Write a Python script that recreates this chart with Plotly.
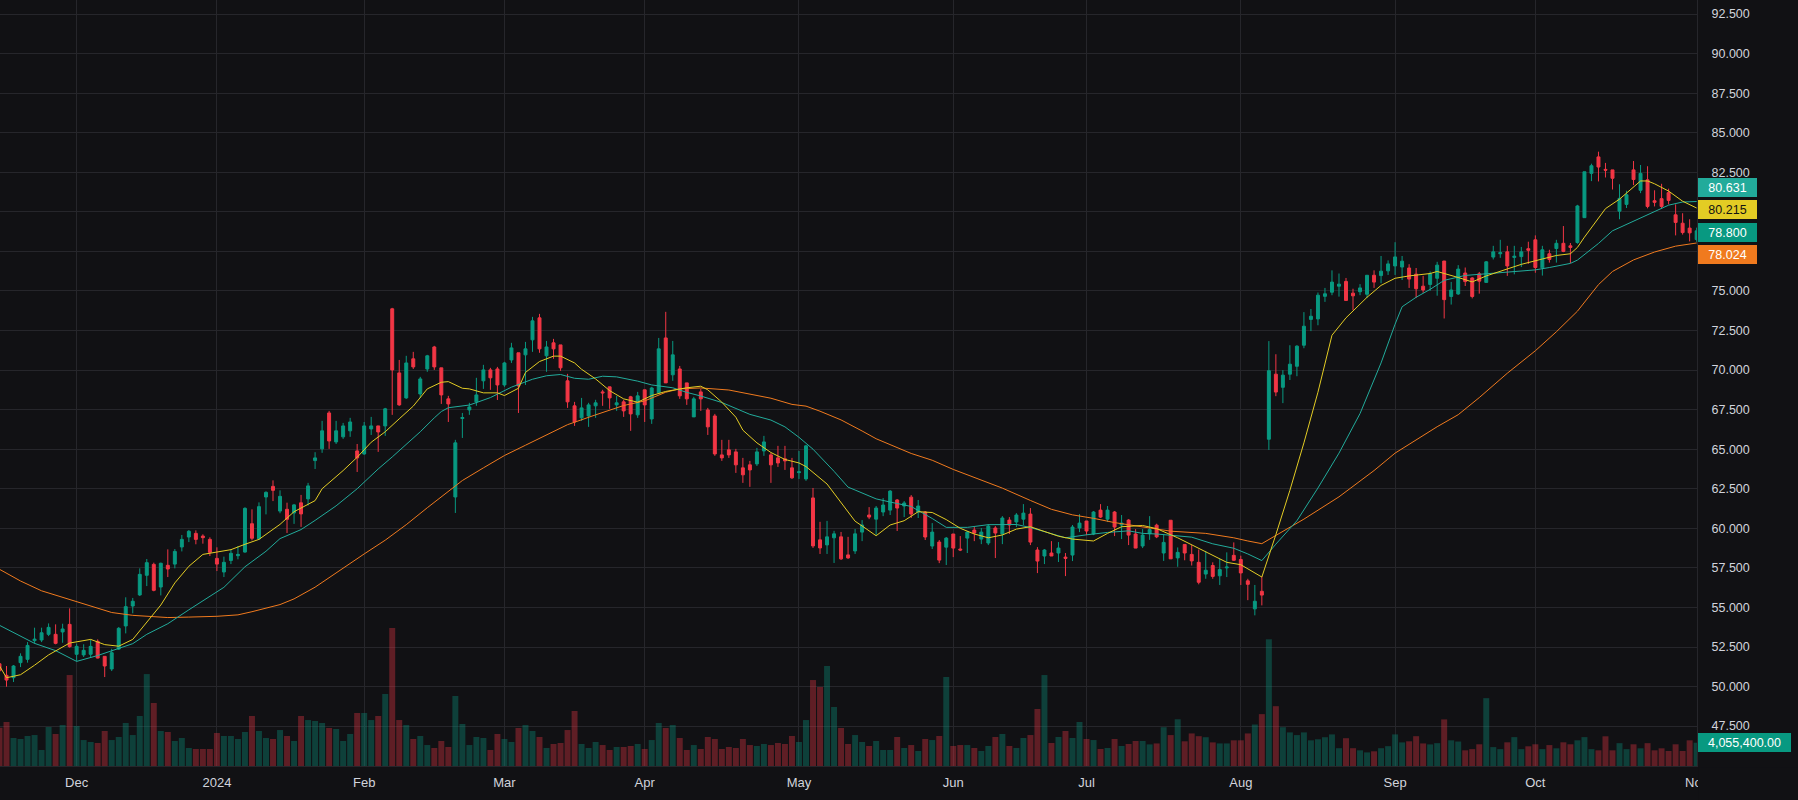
import pandas as pd
import plotly.graph_objects as go

# ---------------- data ----------------
holidays = ["2023-11-23", "2023-12-25", "2024-01-01", "2024-01-15", "2024-02-19",
            "2024-03-29", "2024-05-27", "2024-06-19", "2024-07-04", "2024-09-02"]
dates = [d for d in pd.bdate_range("2023-11-15", "2024-11-01")
         if d.strftime("%Y-%m-%d") not in holidays]

open_ = [51.44, 50.71, 50.56, 51.51, 51.72, 52.90, 52.94, 53.30, 53.30, 53.45,
         53.93, 52.04, 52.00, 52.04, 52.86, 51.91, 51.11, 52.37, 53.83, 55.09,
         55.79, 57.03, 57.72, 56.29, 57.66, 57.74, 58.82, 59.45, 59.68, 59.51,
         59.30, 58.10, 57.24, 57.97, 58.27, 58.50, 60.29, 59.34, 61.98, 62.65,
         61.09, 61.20, 60.97, 61.61, 61.86, 64.28, 65.02, 67.29, 65.46, 65.78,
         66.16, 64.89, 64.70, 66.28, 66.47, 66.47, 73.87, 69.82, 68.24, 70.71,
         68.49, 70.07, 71.46, 70.14, 68.18, 61.98, 66.94, 67.48, 67.99, 69.32,
         70.01, 70.07, 69.06, 70.64, 71.09, 70.96, 71.91, 73.30, 70.90, 71.72,
         71.59, 69.32, 67.74, 66.98, 67.10, 67.74, 68.62, 68.94, 67.80, 67.99,
         68.31, 67.17, 68.75, 66.91, 68.56, 72.03, 69.70, 70.07, 69.19, 67.04,
         68.62, 67.48, 67.10, 64.64, 64.96, 64.83, 63.82, 64.01, 64.07, 64.89,
         64.64, 64.45, 64.39, 63.82, 63.52, 63.12, 61.92, 59.27, 58.95, 59.40,
         59.46, 58.32, 58.57, 59.76, 60.84, 60.58, 61.03, 61.15, 61.79, 61.41,
         61.97, 61.03, 61.03, 58.88, 59.13, 58.81, 59.64, 58.69, 59.38, 59.89,
         59.32, 59.07, 60.02, 59.64, 60.52, 60.40, 60.58, 60.90, 58.63, 58.25,
         58.44, 58.44, 58.18, 58.31, 60.02, 60.46, 59.64, 61.15, 60.58, 61.03,
         60.21, 60.52, 59.64, 58.88, 59.66, 60.20, 58.44, 60.51, 58.13, 58.98,
         58.35, 57.85, 57.11, 57.65, 57.00, 57.50, 58.29, 58.03, 56.68, 54.91,
         56.02, 65.63, 69.74, 68.91, 69.74, 70.24, 71.57, 73.20, 73.23, 74.66,
         74.92, 75.30, 75.60, 74.86, 74.95, 74.79, 75.99, 75.97, 76.27, 76.58,
         76.51, 76.45, 76.06, 75.30, 75.41, 75.80, 76.89, 74.65, 74.81, 76.13,
         75.82, 76.08, 75.54, 77.14, 77.35, 77.47, 77.12, 77.17, 77.67, 78.23,
         76.46, 77.35, 77.68, 78.01, 77.85, 78.06, 79.63, 82.43, 83.47, 82.68,
         82.65, 80.04, 80.47, 82.65, 81.36, 82.02, 80.70, 80.83, 81.21, 79.81,
         79.28, 78.97, 78.25]

high = [51.62, 51.30, 51.36, 52.10, 52.81, 53.72, 53.72, 53.99, 53.93, 53.97,
        54.94, 52.71, 52.67, 52.98, 52.98, 51.91, 52.39, 53.76, 55.64, 55.60,
        57.47, 58.06, 57.83, 57.83, 58.67, 58.69, 59.58, 59.89, 59.87, 59.62,
        59.43, 58.80, 58.21, 58.69, 58.88, 61.33, 61.20, 61.64, 62.34, 63.03,
        62.40, 61.62, 61.54, 62.11, 62.87, 64.81, 66.79, 67.42, 66.79, 66.66,
        66.98, 65.33, 66.72, 67.04, 66.47, 67.61, 73.93, 70.64, 70.90, 71.15,
        69.57, 70.96, 71.53, 70.14, 68.37, 65.59, 67.29, 67.93, 69.51, 70.33,
        70.14, 70.20, 70.52, 71.72, 71.09, 71.78, 73.36, 73.55, 71.84, 71.97,
        71.59, 69.76, 67.99, 68.24, 67.93, 68.12, 68.75, 68.94, 68.37, 68.12,
        68.37, 68.62, 68.75, 68.94, 72.03, 73.68, 71.84, 70.26, 69.19, 68.31,
        68.81, 67.61, 67.23, 65.59, 65.59, 65.02, 64.45, 64.26, 65.08, 65.84,
        64.77, 65.21, 65.21, 64.45, 64.89, 65.27, 62.55, 60.41, 60.47, 59.84,
        59.77, 59.46, 59.96, 60.52, 61.34, 61.41, 61.91, 62.42, 61.85, 61.72,
        62.10, 61.79, 61.09, 60.33, 59.26, 59.45, 59.64, 59.51, 59.83, 60.08,
        60.02, 60.27, 60.14, 60.77, 60.71, 60.96, 61.53, 61.28, 58.81, 58.69,
        59.19, 59.13, 58.44, 60.21, 60.90, 60.46, 61.09, 61.53, 61.41, 61.09,
        60.84, 60.58, 59.95, 59.95, 60.77, 60.29, 59.62, 60.51, 58.79, 58.98,
        58.94, 58.66, 58.57, 57.85, 58.07, 58.48, 59.11, 58.27, 56.81, 56.42,
        56.96, 71.83, 71.00, 70.00, 71.57, 71.57, 73.66, 73.86, 74.90, 75.19,
        76.30, 76.10, 75.82, 75.14, 75.43, 75.99, 76.30, 77.21, 76.93, 78.08,
        77.21, 76.69, 76.45, 75.95, 76.23, 76.84, 76.89, 75.57, 76.63, 76.48,
        75.87, 76.20, 76.89, 77.85, 78.23, 77.85, 77.85, 77.78, 78.11, 78.51,
        77.85, 77.60, 78.23, 79.10, 78.03, 80.44, 82.53, 83.04, 83.80, 83.09,
        82.65, 81.74, 81.33, 83.21, 82.96, 82.88, 81.36, 81.77, 81.46, 80.47,
        79.91, 79.53, 79.00]

low = [50.90, 49.99, 50.29, 51.23, 51.51, 52.71, 52.81, 53.19, 52.67, 52.77,
       52.46, 51.59, 51.87, 51.82, 51.78, 50.60, 50.98, 52.31, 53.36, 54.63,
       55.72, 56.35, 56.02, 55.76, 56.92, 57.47, 58.54, 59.13, 58.99, 59.03,
       58.25, 57.30, 56.92, 57.74, 58.04, 58.46, 59.24, 59.26, 60.88, 61.72,
       60.95, 59.70, 60.28, 60.09, 61.44, 63.75, 64.77, 65.02, 65.33, 65.65,
       65.78, 63.56, 64.64, 65.90, 64.83, 65.84, 67.17, 67.74, 68.18, 70.07,
       68.24, 69.89, 70.01, 67.86, 66.72, 60.97, 65.71, 67.17, 67.74, 68.81,
       68.75, 68.11, 68.94, 70.45, 67.29, 69.06, 71.15, 71.09, 69.89, 70.71,
       69.95, 67.61, 66.47, 66.79, 66.41, 66.98, 67.74, 67.55, 67.42, 67.04,
       66.16, 66.98, 66.72, 66.60, 68.56, 69.19, 69.32, 68.18, 67.80, 67.04,
       67.42, 65.90, 64.58, 64.26, 64.45, 63.50, 62.87, 62.62, 63.94, 64.58,
       62.87, 63.88, 63.69, 63.12, 63.12, 63.00, 58.76, 58.38, 58.38, 57.81,
       58.00, 58.07, 58.38, 59.19, 60.58, 59.57, 60.77, 60.84, 59.83, 60.71,
       60.65, 60.65, 59.26, 58.69, 57.80, 57.68, 58.18, 58.56, 58.44, 59.19,
       59.00, 58.94, 58.12, 59.00, 59.64, 60.08, 60.21, 58.94, 57.17, 57.74,
       58.25, 57.87, 56.98, 57.93, 59.76, 59.57, 59.57, 60.65, 60.40, 59.51,
       59.32, 58.94, 58.75, 58.75, 59.27, 59.38, 57.94, 58.07, 57.57, 57.98,
       57.65, 56.46, 56.81, 56.81, 56.42, 56.92, 57.94, 56.42, 55.46, 54.50,
       55.13, 64.95, 68.35, 67.91, 69.37, 69.61, 71.38, 72.46, 72.83, 74.31,
       74.73, 74.64, 74.38, 73.79, 74.73, 74.55, 75.19, 75.49, 76.01, 76.01,
       75.69, 75.19, 74.55, 74.88, 75.01, 74.70, 73.26, 74.14, 74.75, 75.31,
       74.53, 74.83, 75.52, 76.99, 77.09, 75.95, 76.05, 76.51, 76.71, 76.15,
       75.97, 76.79, 76.79, 77.45, 76.76, 77.98, 79.63, 81.94, 81.92, 82.17,
       81.41, 79.53, 80.24, 81.69, 81.18, 80.22, 80.34, 80.19, 80.47, 78.51,
       78.56, 78.13, 78.10]

close = [51.00, 50.41, 51.30, 51.91, 52.60, 53.00, 53.40, 53.74, 52.73, 53.64,
         52.52, 52.54, 52.29, 52.54, 51.80, 51.30, 52.14, 53.68, 55.05, 55.39,
         57.09, 57.83, 56.08, 57.79, 57.43, 58.54, 59.30, 59.81, 59.30, 59.41,
         58.48, 57.74, 57.85, 58.42, 58.35, 61.26, 59.37, 61.37, 62.27, 62.40,
         62.02, 60.57, 61.48, 60.91, 62.68, 64.45, 66.16, 65.52, 66.16, 66.47,
         66.72, 64.45, 66.47, 66.47, 66.09, 67.55, 70.01, 67.80, 70.45, 70.20,
         69.44, 70.90, 70.20, 68.43, 67.86, 65.40, 67.00, 67.67, 68.43, 70.01,
         69.51, 69.06, 70.45, 71.40, 69.00, 71.34, 73.11, 71.34, 71.46, 71.34,
         70.14, 67.99, 66.72, 67.61, 67.80, 67.93, 68.56, 68.24, 67.93, 67.42,
         67.23, 68.37, 67.80, 68.87, 71.34, 69.19, 70.96, 68.37, 68.18, 68.18,
         68.18, 66.41, 64.70, 64.45, 64.64, 64.01, 63.38, 63.69, 64.83, 65.46,
         64.01, 64.13, 64.26, 63.19, 63.57, 65.21, 58.89, 58.76, 59.46, 59.65,
         58.07, 58.13, 59.65, 60.21, 60.71, 61.28, 61.47, 62.35, 61.28, 61.60,
         60.90, 61.41, 59.45, 59.76, 57.99, 59.38, 58.75, 58.63, 59.76, 59.70,
         59.76, 60.14, 59.70, 60.65, 60.21, 60.84, 60.96, 59.13, 57.93, 58.63,
         58.25, 58.75, 58.10, 60.08, 60.33, 59.83, 61.03, 60.71, 61.15, 60.08,
         60.33, 59.57, 58.75, 59.57, 59.92, 59.46, 59.11, 58.07, 58.48, 58.44,
         57.94, 56.59, 57.35, 56.96, 57.39, 57.55, 57.98, 57.18, 56.46, 55.39,
         55.78, 69.96, 68.61, 69.68, 70.37, 71.51, 72.77, 73.40, 74.73, 74.82,
         75.56, 75.43, 74.40, 74.69, 75.19, 75.99, 75.56, 76.25, 76.71, 77.15,
         76.88, 75.75, 75.14, 75.06, 76.08, 76.63, 74.45, 75.06, 76.38, 75.59,
         74.65, 75.62, 76.84, 77.47, 77.42, 76.58, 77.19, 77.47, 77.57, 76.48,
         77.60, 76.99, 78.01, 77.50, 77.75, 80.37, 82.53, 82.91, 82.83, 82.63,
         82.12, 80.85, 81.08, 82.04, 82.43, 80.34, 80.60, 80.34, 80.72, 79.33,
         78.69, 78.67, 78.80]

volume_m = [6.66, 7.66, 4.87, 4.70, 5.22, 5.39, 2.78, 6.79, 5.57, 7.13,
            15.83, 6.96, 4.52, 4.18, 4.00, 6.09, 4.52, 5.05, 7.48, 5.39,
            8.70, 16.00, 10.96, 6.09, 5.92, 4.35, 4.87, 3.13, 2.96, 2.96,
            2.96, 5.74, 5.22, 5.22, 4.70, 5.92, 8.70, 6.09, 4.87, 4.70,
            6.26, 5.22, 4.35, 8.70, 8.00, 7.83, 7.48, 6.61, 6.44, 4.35,
            5.57, 9.22, 9.22, 8.00, 8.70, 12.53, 24.00, 8.00, 7.13, 4.70,
            5.22, 3.65, 3.13, 4.35, 3.31, 12.18, 7.31, 3.65, 5.05, 4.87,
            2.78, 5.57, 4.70, 4.18, 6.61, 7.13, 6.09, 5.05, 3.13, 3.83,
            4.00, 6.26, 9.57, 3.83, 3.13, 4.18, 3.65, 2.78, 3.31, 3.31,
            3.48, 3.83, 2.96, 4.52, 7.48, 6.61, 7.13, 4.87, 2.78, 3.65,
            2.96, 5.05, 4.70, 2.96, 3.31, 3.13, 4.70, 3.65, 3.48, 3.83,
            3.65, 4.00, 3.83, 5.22, 4.18, 8.00, 14.96, 13.75, 17.40, 10.27,
            6.61, 3.83, 5.39, 4.18, 3.48, 4.35, 2.78, 2.78, 5.05, 3.13,
            3.65, 2.61, 4.70, 4.52, 5.22, 15.49, 3.48, 3.65, 3.65, 3.13,
            2.61, 3.48, 5.05, 5.57, 3.48, 3.13, 4.87, 5.39, 9.92, 15.83,
            4.00, 5.05, 6.09, 4.87, 7.66, 4.70, 4.52, 2.96, 3.13, 4.70,
            3.48, 3.83, 4.35, 4.35, 3.76, 3.93, 6.75, 5.38, 8.13, 4.30,
            5.67, 5.19, 5.01, 4.11, 3.93, 3.93, 4.47, 4.47, 5.67, 7.22,
            9.03, 22.05, 10.41, 6.75, 5.85, 5.38, 5.85, 4.47, 4.65, 5.01,
            5.50, 3.10, 4.84, 3.10, 2.73, 2.37, 2.56, 3.10, 3.45, 5.50,
            4.11, 4.30, 5.19, 3.93, 3.76, 3.98, 8.11, 4.47, 4.26, 2.73,
            2.94, 3.78, 11.81, 3.29, 2.94, 4.12, 5.03, 2.94, 3.43, 3.78,
            2.94, 3.64, 3.08, 4.12, 3.78, 4.47, 5.03, 2.94, 2.73, 5.17,
            2.73, 3.98, 2.94, 3.78, 3.08, 3.98, 2.73, 3.08, 2.61, 3.78,
            2.61, 4.47, 4.0554]

# moving averages (bar index, value)
ma_fast_idx = [0, 1, 2, 3, 5, 7, 10, 12, 13, 15, 17, 19, 21, 23, 25, 27, 29, 31, 33, 35,
               37, 40, 42, 45, 46, 49, 51, 53, 55, 57, 59, 61, 63, 64, 66, 67, 69, 71, 72, 74,
               75, 77, 79, 80, 82, 83, 85, 87, 89, 91, 93, 95, 98, 100, 101, 103, 105, 106, 108, 110,
               112, 114, 115, 118, 120, 122, 123, 125, 127, 129, 131, 133, 135, 137, 139, 141, 143, 145, 147, 149,
               151, 153, 156, 158, 160, 163, 165, 168, 170, 173, 175, 177, 180, 182, 184, 186, 188, 190, 192, 195,
               197, 199, 201, 204, 205, 208, 210, 212, 215, 217, 220, 222, 224, 225, 226, 227, 229, 231, 233, 234,
               235, 236, 238, 240, 242]
ma_fast_val = [51.30, 50.56, 50.65, 50.75, 51.35, 52.00, 52.75, 52.93, 52.98, 52.65, 52.55, 52.98, 54.04, 55.15, 56.55, 57.60, 58.35, 58.50, 58.65, 58.99,
               59.30, 60.25, 61.05, 61.75, 62.50, 63.65, 64.49, 65.44, 66.10, 66.92, 67.72, 68.81, 69.23, 69.27, 68.85, 68.81, 68.56, 68.56, 68.39, 68.85,
               69.85, 70.54, 70.88, 70.88, 70.45, 70.05, 69.44, 68.70, 68.18, 67.97, 68.39, 68.65, 68.88, 68.98, 68.75, 67.97, 67.02, 66.20, 65.40, 64.79,
               64.35, 64.13, 63.90, 62.80, 61.65, 60.45, 60.15, 59.53, 60.21, 60.48, 61.05, 61.00, 60.55, 60.00, 59.64, 59.40, 59.58, 59.95, 60.10, 59.78,
               59.50, 59.32, 59.20, 59.68, 60.10, 60.18, 59.98, 59.40, 58.95, 58.30, 57.85, 57.70, 56.92, 59.60, 62.40, 65.40, 68.60, 72.20, 73.30, 74.60,
               75.35, 75.80, 75.95, 76.10, 76.23, 75.85, 75.57, 75.95, 76.40, 76.68, 77.02, 77.24, 77.35, 77.75, 78.40, 79.00, 80.20, 80.80, 81.55, 81.95,
               81.95, 81.77, 81.31, 80.67, 80.24]

ma_mid_idx = [0, 2, 5, 8, 11, 14, 17, 19, 21, 24, 27, 30, 32, 35, 38, 40, 43, 45, 48, 51,
              54, 56, 58, 60, 62, 63, 64, 67, 70, 73, 76, 78, 80, 82, 84, 86, 88, 91, 93, 96,
              98, 100, 103, 105, 107, 110, 112, 114, 116, 119, 121, 122, 125, 127, 130, 133, 135, 138, 141, 145,
              147, 150, 152, 155, 158, 161, 163, 165, 170, 173, 176, 178, 180, 182, 185, 188, 191, 194, 197, 199,
              200, 202, 204, 206, 209, 213, 216, 219, 221, 224, 225, 228, 230, 233, 236, 238, 240, 242]
ma_mid_val = [53.87, 53.40, 52.73, 52.27, 51.59, 51.96, 52.40, 52.71, 53.30, 53.97, 54.85, 55.67, 56.27, 57.57, 58.55, 59.35, 59.92, 60.50, 61.42, 62.50,
              63.75, 64.51, 65.31, 66.10, 66.98, 67.38, 67.62, 67.79, 68.26, 68.92, 69.42, 69.64, 69.72, 69.48, 69.42, 69.61, 69.57, 69.30, 69.06, 68.88,
              68.59, 68.36, 67.95, 67.55, 67.20, 66.84, 66.41, 65.75, 65.00, 63.60, 62.60, 62.42, 61.86, 61.66, 61.38, 60.62, 60.06, 60.06, 60.23, 60.24,
              60.05, 59.66, 59.40, 59.59, 59.74, 59.84, 59.68, 59.64, 59.44, 59.02, 58.74, 58.38, 57.96, 59.00, 60.48, 62.55, 64.75, 67.25, 70.45, 72.90,
              74.00, 74.60, 75.10, 75.67, 75.98, 76.12, 76.24, 76.33, 76.48, 76.74, 76.95, 78.00, 78.80, 79.40, 80.00, 80.42, 80.62, 80.65]

ma_slow_idx = [0, 3, 6, 11, 14, 16, 19, 21, 24, 27, 31, 34, 36, 40, 42, 45, 49, 52, 55, 58,
               61, 64, 66, 69, 72, 75, 78, 81, 85, 89, 92, 95, 97, 100, 104, 106, 110, 113, 115, 117,
               120, 123, 125, 130, 133, 136, 140, 143, 147, 150, 153, 156, 159, 163, 167, 172, 176, 178, 180, 182,
               186, 191, 196, 199, 202, 205, 208, 211, 215, 219, 222, 225, 228, 230, 233, 236, 239, 242]
ma_slow_val = [57.41, 56.67, 56.05, 55.34, 54.92, 54.68, 54.50, 54.46, 54.36, 54.39, 54.44, 54.53, 54.73, 55.18, 55.54, 56.28, 57.50, 58.38, 59.25, 60.23,
               61.30, 62.34, 63.02, 63.82, 64.60, 65.25, 65.91, 66.55, 67.17, 67.76, 68.05, 68.60, 68.81, 68.87, 68.74, 68.57, 68.22, 67.83, 67.72, 67.40,
               66.85, 66.15, 65.66, 64.73, 64.30, 63.72, 63.03, 62.54, 61.76, 61.20, 60.85, 60.63, 60.36, 60.10, 59.82, 59.68, 59.40, 59.20, 59.03, 59.55,
               60.58, 61.99, 63.65, 64.75, 65.60, 66.42, 67.18, 68.26, 69.80, 71.22, 72.42, 73.72, 75.40, 76.23, 76.96, 77.46, 77.83, 78.03]

# right-axis value tags (as printed on the chart)
tag_values = [80.631, 80.215, 78.800, 78.024]
price_ticks = [47.5, 50.0, 52.5, 55.0, 57.5, 60.0, 62.5, 65.0, 67.5, 70.0, 72.5, 75.0, 77.5, 80.0, 82.5, 85.0, 87.5, 90.0, 92.5]

# ---------------- styling ----------------
BG = "#111114"
GRID = "#26262b"
TXT = "#d1d4dc"
UP = "#089981"
DN = "#F23645"
C_FAST = "#e3cc24"
C_MID = "#22ab9b"
C_SLOW = "#f07a1e"
FONT = "Liberation Sans, Arial, sans-serif"

x = list(range(len(dates)))
volume = [v * 1e6 for v in volume_m]
vol_colors = ["rgba(8,153,129,0.35)" if c >= o else "rgba(242,54,69,0.35)"
              for o, c in zip(open_, close)]

tick_idx, tick_txt = [], []
for i in range(1, len(dates)):
    if dates[i].month != dates[i - 1].month:
        tick_idx.append(i)
        tick_txt.append(str(dates[i].year) if dates[i].month == 1 else dates[i].strftime("%b"))

fig = go.Figure()
fig.add_trace(go.Bar(x=x, y=volume, marker=dict(color=vol_colors, line=dict(width=0)),
                     width=0.85, yaxis="y", hoverinfo="skip"))
fig.add_trace(go.Candlestick(x=x, open=open_, high=high, low=low, close=close, yaxis="y2",
                             increasing=dict(line=dict(color=UP, width=1), fillcolor=UP),
                             decreasing=dict(line=dict(color=DN, width=1), fillcolor=DN),
                             whiskerwidth=0))
fig.add_trace(go.Scatter(x=ma_slow_idx, y=ma_slow_val, mode="lines", yaxis="y2",
                         line=dict(color=C_SLOW, width=1)))
fig.add_trace(go.Scatter(x=ma_mid_idx, y=ma_mid_val, mode="lines", yaxis="y2",
                         line=dict(color=C_MID, width=1)))
fig.add_trace(go.Scatter(x=ma_fast_idx, y=ma_fast_val, mode="lines", yaxis="y2",
                         line=dict(color=C_FAST, width=1)))

n = len(dates)
x_right = (n - 1) + 0.05
x_left = 0.5 / (1697.5 / x_right)

fig.update_layout(
    width=1798, height=800,
    margin=dict(l=0, r=101, t=0, b=34),
    paper_bgcolor=BG, plot_bgcolor=BG,
    showlegend=False,
    boxgap=0.4,
    font=dict(family=FONT, color=TXT, size=13),
    xaxis=dict(range=[x_left, x_right], tickmode="array", tickvals=tick_idx, ticktext=tick_txt,
               showgrid=True, gridcolor=GRID, gridwidth=1, zeroline=False,
               rangeslider=dict(visible=False), showline=True, linecolor=GRID,
               ticks="", ticklabelstandoff=4, tickfont=dict(size=13, color=TXT)),
    yaxis=dict(range=[0, 133.3e6], visible=False, showgrid=False, zeroline=False, fixedrange=True),
    yaxis2=dict(overlaying="y", side="right", range=[44.98, 93.385], tickmode="array",
                tickvals=price_ticks, ticktext=[f"{v:.3f}" for v in price_ticks],
                showgrid=True, gridcolor=GRID, gridwidth=1, zeroline=False,
                showline=True, linecolor=GRID, ticks="", ticklabelstandoff=11,
                tickfont=dict(size=12.5, color=TXT)),
)

# cover the part of the last month label under the price scale
fig.add_shape(type="rect", xref="paper", yref="paper", x0=1.0006, x1=1.07,
              y0=-0.05, y1=-0.0015, fillcolor=BG, line=dict(width=0), layer="above")

tag_bg = [C_MID, C_FAST, UP, C_SLOW]
tag_fg = ["#ffffff", "#131313", "#ffffff", "#ffffff"]
tag_shift = [14.3, -1.3, -1.4, -11.6]
for v, bgc, fgc, sh in zip(tag_values, tag_bg, tag_fg, tag_shift):
    fig.add_annotation(x=1.0, xref="paper", xanchor="left", xshift=1,
                       y=v, yref="y2", yanchor="middle", yshift=sh,
                       text=f"{v:.3f}", showarrow=False, bgcolor=bgc,
                       font=dict(family=FONT, size=12.5, color=fgc),
                       width=59, height=19, borderpad=0, borderwidth=0, align="center")

fig.add_annotation(x=1.0, xref="paper", xanchor="left", xshift=1,
                   y=volume[-1], yref="y", yanchor="middle",
                   text=f"{volume[-1]:,.2f}", showarrow=False, bgcolor=UP,
                   font=dict(family=FONT, size=12.5, color="#ffffff"),
                   width=93, height=19, borderpad=0, borderwidth=0, align="center")

fig.write_html("out.html")
